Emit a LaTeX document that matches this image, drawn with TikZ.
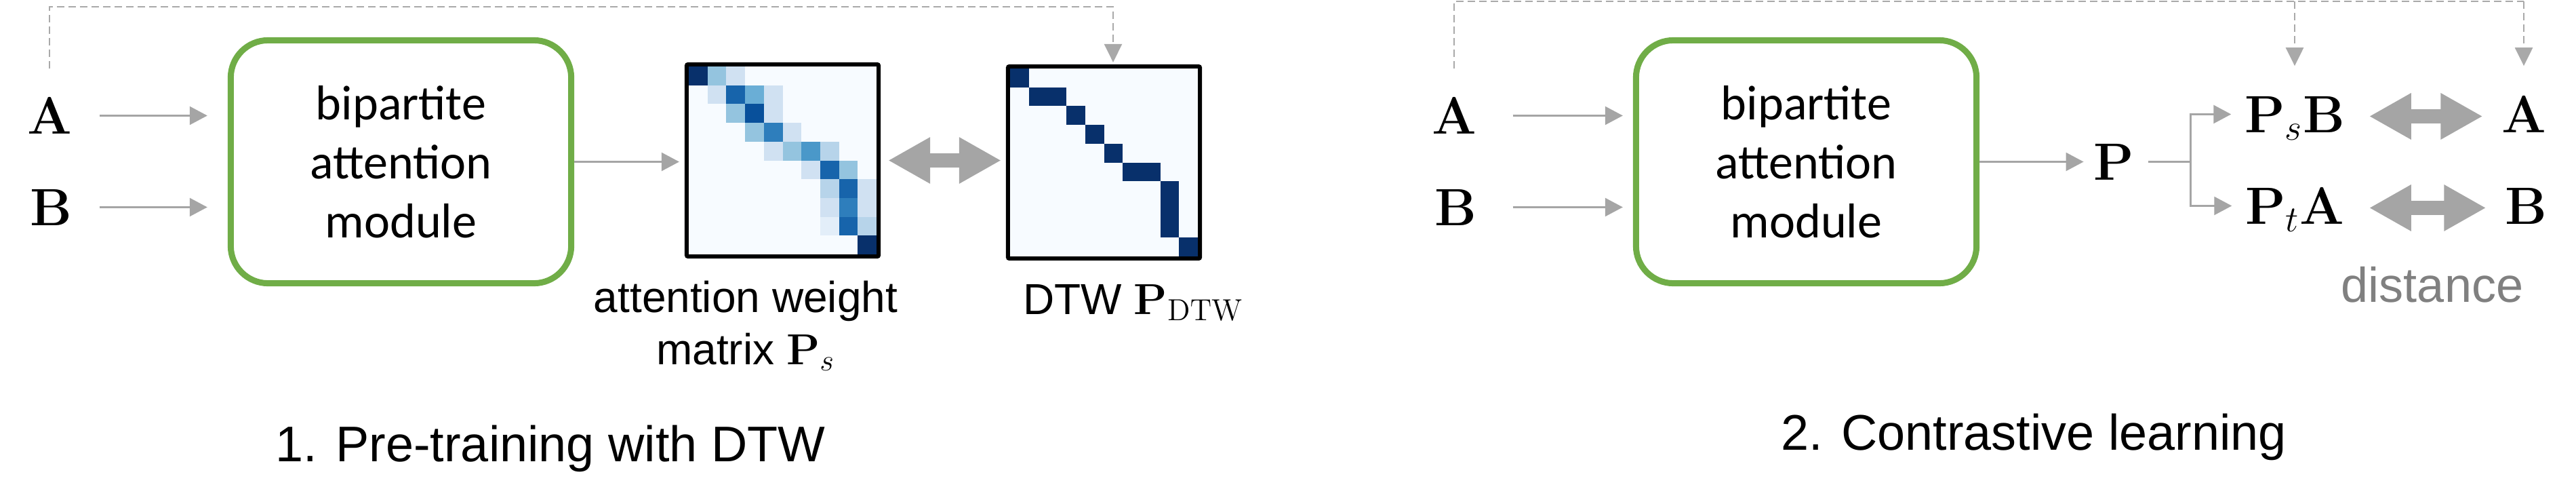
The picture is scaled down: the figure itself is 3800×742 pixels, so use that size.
\RequirePackage{fix-cm}
\documentclass[tikz,border=0pt]{standalone}
\usepackage[no-math]{fontspec}
\setmainfont{Liberation Sans}
\newfontfamily\calibri{Carlito}
\usepackage{xcolor}
\usepackage{tikz}
\usetikzlibrary{calc, arrows.meta, positioning}

\definecolor{modgreen}{HTML}{70AD47}
\definecolor{arrgray}{HTML}{A5A5A5}
\definecolor{dashgray}{HTML}{A9A9A9}
\definecolor{txtgray}{HTML}{808080}
\definecolor{bl0}{HTML}{F7FBFF}
\definecolor{bl1}{HTML}{E3EEF9}
\definecolor{bl2}{HTML}{D0E1F2}
\definecolor{bl3}{HTML}{B7D4EA}
\definecolor{bl4}{HTML}{94C4DF}
\definecolor{bl5}{HTML}{6AAED6}
\definecolor{bl6}{HTML}{4A98C9}
\definecolor{bl7}{HTML}{2E7EBC}
\definecolor{bl8}{HTML}{1764AB}
\definecolor{bl9}{HTML}{08509B}
\definecolor{bl10}{HTML}{08306B}

\begin{document}
\begin{tikzpicture}[x=0.01cm, y=-0.01cm,
    arr/.style={draw=arrgray, line width=0.025cm, -{Triangle[length=0.26cm, width=0.27cm]}},
    plainline/.style={draw=arrgray, line width=0.025cm},
    dashline/.style={draw=dashgray, line width=0.025cm, dash pattern=on 0.11cm off 0.06cm},
    dasharr/.style={dashline, -{Triangle[length=0.27cm, width=0.26cm]}},
    dist/.style={draw=arrgray, line width=0.21cm,
        {Triangle[length=0.62cm, width=0.64cm]}-{Triangle[length=0.62cm, width=0.64cm]}},
    module/.style={draw=modgreen, line width=0.09cm, rounded corners=0.55cm,
        minimum width=5.02cm, minimum height=3.58cm, align=center,
        font=\calibri\fontsize{20.5}{24.75}\selectfont},
    sym/.style={inner sep=0pt, text depth=0pt, font=\fontsize{22}{26}\selectfont},
    heat/.style={draw=black, line width=0.06cm, rounded corners=0.02cm,
        minimum size=2.83cm, inner sep=0pt},
    lbl/.style={inner sep=0pt, align=center, font=\fontsize{18.2}{21.9}\selectfont},
    capt/.style={inner sep=0pt, font=\fontsize{21}{25}\selectfont},
  ]
    \useasboundingbox (0,0) rectangle (3800,742);

    % 1. Pre-training: inputs and module
    \node[sym, anchor=base] (A1) at (73,197) {$\mathbf{A}$};
    \node[sym, anchor=base] (B1) at (75,332) {$\mathbf{B}$};
    \node[module] (box1) at (591.5,238.5) {bipartite\\attention\\module};
    \draw[arr, shorten <=0.4cm, shorten >=0.3cm] (A1) -- (A1 -| box1.west);
    \draw[arr, shorten <=0.4cm, shorten >=0.3cm] (B1) -- (B1 -| box1.west);

    % 2. Attention weight matrix (heat map)
    \fill[bl0] (1016,98) rectangle ++(277,277);
    \foreach \r/\c/\col in {0/0/bl10, 0/1/bl4, 0/2/bl2,
        1/1/bl2, 1/2/bl8, 1/3/bl5, 1/4/bl2,
        2/2/bl4, 2/3/bl9, 2/4/bl2,
        3/3/bl4, 3/4/bl7, 3/5/bl2,
        4/4/bl2, 4/5/bl4, 4/6/bl6, 4/7/bl3,
        5/6/bl2, 5/7/bl8, 5/8/bl4,
        6/7/bl3, 6/8/bl8, 6/9/bl2,
        7/7/bl2, 7/8/bl7, 7/9/bl2,
        8/7/bl1, 8/8/bl8, 8/9/bl3,
        9/9/bl10}
        \fill[\col] (1016+\c*27.7,98+\r*27.7) rectangle ++(27.7,27.7);
    \node[heat] (mat1) at (1154.5,236.5) {};

    % 3. DTW matrix
    \fill[bl0] (1490,101) rectangle ++(277,277);
    \foreach \r/\c in {0/0, 1/1, 1/2, 2/3, 3/4, 4/5, 5/6, 5/7, 6/8, 7/8, 8/8, 9/9}
        \fill[bl10] (1490+\c*27.7,101+\r*27.7) rectangle ++(27.7,27.7);
    \node[heat] (mat2) at (1628.5,239.5) {};

    \draw[arr, shorten >=0.08cm] (box1) -- (box1 -| mat1.west);
    \draw[dist, shorten <=0.11cm, shorten >=0.07cm] (mat1) -- (mat1 -| mat2.west);

    % 4. Dashed path A -> DTW
    \coordinate (dtwtop) at (1642,10);
    \draw[dasharr, shorten >=0.03cm] ([yshift=0.42cm]A1.north) |- (dtwtop) -- (dtwtop |- mat2.north);

    % 5. Labels, part 1
    \node[lbl, anchor=north] (wlbl) at (1100,413) {attention weight\\matrix $\mathbf{P}_s$};
    \node[lbl, anchor=base] (dtwlbl) at (1672,463) {DTW $\mathbf{P}_{\mathrm{DTW}}$};
    \node[capt, anchor=base] (cap1) at (812,680) {1. Pre-training with DTW};

    % 6. Contrastive learning: inputs and module
    \node[sym, anchor=base] (A2) at (2145,197) {$\mathbf{A}$};
    \node[sym, anchor=base] (B2) at (2147,332) {$\mathbf{B}$};
    \node[module] (box2) at (2664.5,238.5) {bipartite\\attention\\module};
    \draw[arr, shorten <=0.53cm, shorten >=0.15cm] (A2) -- (A2 -| box2.west);
    \draw[arr, shorten <=0.53cm, shorten >=0.15cm] (B2) -- (B2 -| box2.west);

    % 7. P and its two products
    \node[sym, anchor=base] (P) at (3118,265) {$\mathbf{P}$};
    \draw[arr, shorten >=0.14cm] (box2) -- (box2 -| P.west);
    \node[sym, anchor=base] (PsB) at (3385,195) {$\mathbf{P}_s\mathbf{B}$};
    \node[sym, anchor=base] (PtA) at (3385,330) {$\mathbf{P}_t\mathbf{A}$};
    \coordinate (fork) at ([xshift=0.83cm]P.east);
    \draw[plainline, shorten <=0.21cm] (P) -- (fork);
    \draw[arr, shorten >=0.19cm] (fork) |- (PsB.west);
    \draw[arr, shorten >=0.19cm] (fork) |- (PtA.west);

    % 8. Targets and distance
    \node[sym, anchor=base] (A3) at (3723,195) {$\mathbf{A}$};
    \node[sym, anchor=base] (B3) at (3726,330) {$\mathbf{B}$};
    \draw[dist, shorten <=0.35cm, shorten >=0.27cm] ([yshift=-0.03cm]PsB.east) -- ([yshift=-0.03cm]PsB.east -| A3.west);
    \draw[dist, shorten <=0.36cm, shorten >=0.27cm] ([yshift=-0.03cm]PtA.east) -- ([yshift=-0.03cm]PtA.east -| B3.west);
    \node[capt, anchor=base, text=txtgray, font=\fontsize{20.5}{24}\selectfont] (dlbl) at (3588,445) {distance};

    % 9. Dashed paths from A
    \coordinate (topR) at (A3.north |- 0,2);
    \draw[dashline] ([yshift=0.42cm]A2.north) |- (topR);
    \draw[dasharr, shorten >=0.44cm] (topR) -- (A3.north);
    \draw[dasharr, shorten >=0.44cm] (PsB.north |- topR) -- (PsB.north);

    \node[capt, anchor=base] (cap2) at (3000,663) {2. Contrastive learning};
\end{tikzpicture}
\end{document}
